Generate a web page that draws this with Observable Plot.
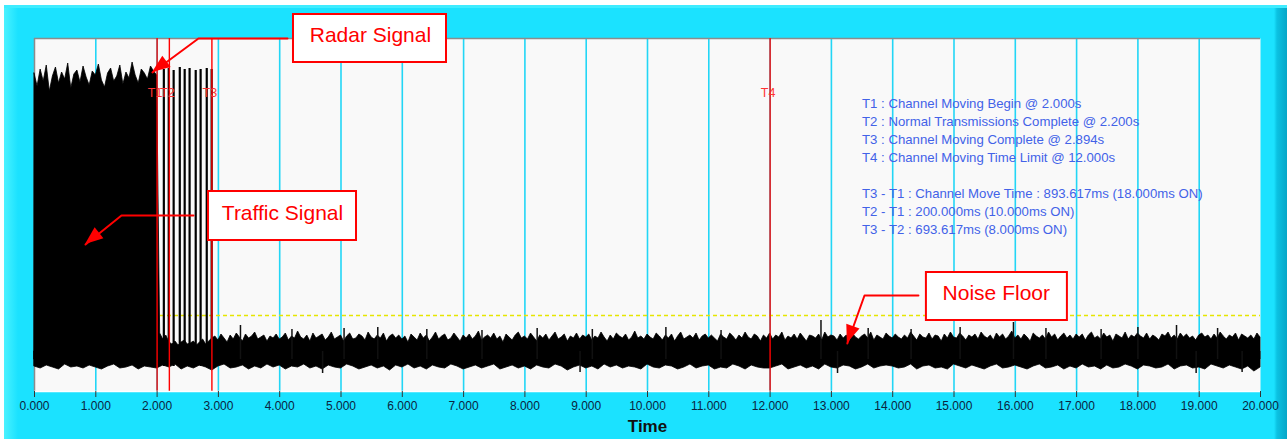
<!DOCTYPE html>
<html><head><meta charset="utf-8">
<script src="https://cdn.jsdelivr.net/npm/d3@7"></script>
<script src="https://cdn.jsdelivr.net/npm/@observablehq/plot@0.6"></script>
<style>
html,body{margin:0;padding:0;background:#fff;width:1287px;height:439px;overflow:hidden;}
#panel{position:absolute;left:4px;top:5px;width:1283px;height:434px;
background:linear-gradient(to right,#4af2ff 0px,#1be2ff 14px,#1be2ff 1270px,#0bc2e2 1273px,#08a6c8 1283px);
box-shadow:inset 0 3px 0 #3eecff;}
#chart{position:absolute;left:0;top:0;}
</style></head><body><div id="panel"></div><div id="chart"></div>
<script>
// ---- data ----
const xTicks = [0,1,2,3,4,5,6,7,8,9,10,11,12,13,14,15,16,17,18,19,20];
const gridTicks = [1,2,3,4,5,6,7,8,9,10,11,12,13,14,15,16,17,18,19];
const eventNames = ["T1","T2","T3","T4"];
const eventTimes = [2.0, 2.2, 2.894, 12.0];
const noiseFloorLevel = 76;
const upperBase = 32;   // inner edge of upper half of the band
const lowerBase = 40;   // inner edge of lower half of the band (overlap avoids seam)
const sampleStep = 0.05;   // seconds between upper-envelope samples
const lowerStep = 0.1;     // seconds between lower-envelope samples
// traffic (upper envelope) 0.00 .. 2.00 s
const trafficTop = [318,305,322,310,326,300,315,324,308,319,312,328,303,317,321,309,325,314,306,320,316,327,311,304,318,323,310,315,326,307,319,313,329,316,308,322,318,312,325,320,316];
// noise (upper envelope) 2.05 .. 20.00 s
const noiseTop = [
58,52,56,49,47,50,46,49,51,47,48,50,46,49,52,47,50,53,55,51,
57,53,49,56,52,58,54,50,57,53,55,59,52,54,56,50,55,53,57,52,
54,58,51,55,53,60,54,52,56,50,58,53,55,57,51,54,59,52,54,56,
50,55,58,52,53,57,55,51,59,54,52,56,53,58,50,55,57,53,56,52,
55,49,57,54,51,58,53,56,50,54,59,52,55,57,51,53,58,54,50,56,
53,57,52,55,60,51,54,56,53,58,52,55,49,57,54,51,56,59,53,55,
52,58,54,50,56,53,57,51,55,59,52,54,57,50,55,53,58,52,56,54,
57,51,55,53,59,54,50,56,52,58,55,53,57,51,54,60,53,55,52,57,
54,52,58,55,51,56,53,57,50,55,59,52,54,56,53,58,51,55,57,53,
56,53,50,57,54,52,58,55,51,56,53,59,54,52,57,55,50,56,53,58,
52,56,54,59,51,55,53,57,52,58,54,50,56,55,53,57,51,59,54,56,
55,51,57,53,56,50,58,54,52,55,57,53,59,51,56,54,52,58,55,53,
57,54,52,56,53,59,55,51,57,54,53,58,52,56,55,50,57,53,59,54,
53,58,55,51,56,54,57,52,59,55,53,56,51,58,54,57,52,55,60,53,
56,52,57,54,50,58,55,53,56,52,59,54,57,51,55,58,53,56,52,57,
54,57,51,56,59,53,55,52,58,54,56,50,57,55,53,59,52,56,54,58,
55,53,58,52,56,54,51,57,55,59,53,56,52,58,54,57,53,55,51,56,
58,54,56,52,57,53,59,55,52,56,54,58,51,57,55,53,56,52,58,54];
// lower envelope 0.0 .. 20.0 s
const bottomEdge = [
25,23,26,24,22,27,24,25,23,26,24,22,25,27,23,24,26,22,25,24,
23,26,24,27,22,25,23,26,24,21,25,27,23,24,26,22,25,23,27,24,
26,22,25,24,27,23,25,22,26,24,23,27,25,22,24,26,23,25,21,26,
24,27,23,25,22,26,24,23,27,25,22,24,26,23,25,27,22,24,26,23,
25,22,26,24,23,27,25,21,24,26,23,25,22,27,24,26,23,25,24,22,
27,24,23,26,25,22,24,27,23,25,26,22,24,23,27,25,22,26,24,23,
23,25,27,22,24,26,23,25,22,27,24,23,26,25,22,24,27,23,25,26,
25,23,24,27,22,25,26,23,24,22,27,25,23,26,24,22,25,27,23,24,
26,24,22,25,27,23,24,26,22,25,23,27,24,25,22,26,23,24,27,25,
22,26,25,23,24,27,22,25,26,23,24,22,27,25,23,26,24,22,25,20,24];
// radar bursts
const burstTimes = [2.11,2.19,2.27,2.37,2.45,2.53,2.63,2.71,2.81,2.89];
const burstTops  = [322,323,321,324,322,323,321,322,323,322];
const burstBase = 25;
// isolated noise spikes
const spikeUpTimes = [3.36,4.2,5.05,5.6,6.4,7.3,8.2,9.1,10.3,11.2,12.83,13.6,14.3,15.1,15.97,16.5,17.4,18.0,18.63,19.3];
const spikeUpTops  = [66,62,63,64,62,61,63,62,64,61,71,63,62,64,69,63,62,64,66,63];
const spikeDownTimes = [4.7,8.9,13.1,18.95,19.7];
const spikeDownBottoms = [18,19,18,18,19];
// legend text
const legendLines = [
"T1 : Channel Moving Begin @ 2.000s",
"T2 : Normal Transmissions Complete @ 2.200s",
"T3 : Channel Moving Complete @ 2.894s",
"T4 : Channel Moving Time Limit @ 12.000s",
"",
"T3 - T1 : Channel Move Time : 893.617ms (18.000ms ON)",
"T2 - T1 : 200.000ms (10.000ms ON)",
"T3 - T2 : 693.617ms (8.000ms ON)"];
const legendX = 13.50, legendY = 296;
const eventLabelLevel = 299;
// callouts
const calloutLabels = ["Radar Signal","Traffic Signal","Noise Floor"];
const calloutX1 = [4.225, 2.838, 14.55];
const calloutX2 = [6.721, 5.253, 16.85];
const calloutY1 = [329, 151, 71];
const calloutY2 = [377, 200, 119];
const calloutTextX = [5.48, 4.046, 15.69];
const calloutTextY = [356, 178, 98];
const arrowT = [[4.127,2.675,1.925],[2.594,1.419,0.832],[14.42,13.54,13.26]];
const arrowV = [[353,353,319],[176,176,147],[96,96,48]];

// ---- tables ----
const upperEnv = trafficTop.concat(noiseTop).map((v,i)=>({t:i*sampleStep, v}));
const lowerEnv = bottomEdge.map((v,i)=>({t:i*lowerStep, v}));
const bursts = burstTimes.map((t,i)=>({t, top:burstTops[i]}));
const spikesUp = spikeUpTimes.map((t,i)=>({t, v:spikeUpTops[i]}));
const spikesDown = spikeDownTimes.map((t,i)=>({t, v:spikeDownBottoms[i]}));
const events = eventNames.map((n,i)=>({n, t:eventTimes[i]}));
const callouts = calloutLabels.map((label,i)=>({label,x1:calloutX1[i],x2:calloutX2[i],y1:calloutY1[i],y2:calloutY2[i],tx:calloutTextX[i],ty:calloutTextY[i]}));
const arrowPts = arrowT.flatMap((ts,k)=>ts.map((t,j)=>({id:k, t, v:arrowV[k][j]})));

function arrowHeads(index, scales) {
  const g = d3.create("svg:g");
  arrowT.forEach((ts,k)=>{
    const n = ts.length;
    const ax = scales.x(ts[n-2]), ay = scales.y(arrowV[k][n-2]);
    const bx = scales.x(ts[n-1]), by = scales.y(arrowV[k][n-1]);
    const ang = Math.atan2(by-ay, bx-ax), L = 18, W = 7;
    const cx = bx - L*Math.cos(ang), cy = by - L*Math.sin(ang);
    const p1 = [cx + W*Math.sin(ang), cy - W*Math.cos(ang)];
    const p2 = [cx - W*Math.sin(ang), cy + W*Math.cos(ang)];
    g.append("path").attr("d", `M${bx},${by}L${p1}L${p2}Z`).attr("fill", "#ff0000");
  });
  return g.node();
}

const chart = Plot.plot({
  width: 1287, height: 439,
  marginLeft: 34, marginRight: 27, marginTop: 38, marginBottom: 48,
  style: {background: "transparent", fontFamily: "Arial, 'Liberation Sans', sans-serif", fontSize: "12px", overflow: "visible"},
  x: {domain: [0, 20]},
  y: {domain: [0, 353], axis: null},
  marks: [
    Plot.frame({fill: "#f9f9f9", stroke: null}),
    Plot.ruleX(gridTicks, {stroke: "#22d6f6", strokeWidth: 1.6}),
    Plot.ruleY([353], {stroke: "#8c8c8c", strokeWidth: 1.5}),
    Plot.ruleX([0], {stroke: "#8c8c8c", strokeWidth: 1.5}),
    Plot.ruleY([noiseFloorLevel], {stroke: "#e6e600", strokeWidth: 1.3, strokeDasharray: "4,3"}),
    Plot.areaY(upperEnv, {x: "t", y1: upperBase, y2: "v", fill: "#000", stroke: "#000", strokeWidth: 0.8}),
    Plot.areaY(lowerEnv, {x: "t", y1: "v", y2: lowerBase, fill: "#000", stroke: "#000", strokeWidth: 0.8}),
    Plot.ruleX(bursts, {x: "t", y1: burstBase, y2: "top", stroke: "#000", strokeWidth: 2.2}),
    Plot.ruleX(spikesUp, {x: "t", y1: upperBase, y2: "v", stroke: "#111", strokeWidth: 1.5}),
    Plot.ruleX(spikesDown, {x: "t", y1: "v", y2: lowerBase, stroke: "#111", strokeWidth: 1.5}),
    Plot.ruleX(events, {x: "t", stroke: "#ff0000", strokeWidth: 1.4}),
    Plot.text(events, {x: "t", y: eventLabelLevel, text: "n", fill: "#ff3333", fontSize: 12.5, dx: -2}),
    Plot.text([legendLines.join("\n")], {x: legendX, y: legendY, textAnchor: "start", lineAnchor: "top", lineHeight: 1.36, fontSize: 13.2, fill: "#4262e8"}),
    Plot.line(arrowPts, {x: "t", y: "v", z: "id", stroke: "#ff0000", strokeWidth: 2, curve: "linear"}),
    arrowHeads,
    Plot.rect(callouts, {x1: "x1", x2: "x2", y1: "y1", y2: "y2", fill: "#fff", stroke: "#ff0000", strokeWidth: 2}),
    Plot.text(callouts, {x: "tx", y: "ty", text: "label", fill: "#ff0000", fontSize: 21}),
    Plot.ruleY([0], {stroke: "#ffffff", strokeWidth: 1.5}),
    Plot.axisX(xTicks, {tickFormat: d => d.toFixed(3), tickSize: 6, tickPadding: 4, fill: "#0a2440", stroke: "#333", fontSize: 12, label: null}),
    Plot.text(["Time"], {frameAnchor: "bottom", dy: 40, fontSize: 17, fontWeight: "bold", fill: "#111"})
  ]
});
document.getElementById("chart").appendChild(chart);
</script></body></html>
